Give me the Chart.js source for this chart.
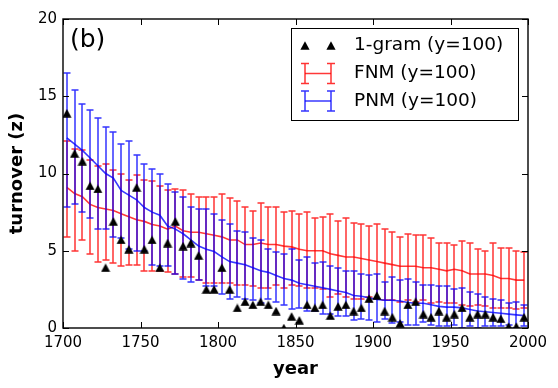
<!DOCTYPE html>
<html>
<head>
<meta charset="utf-8">
<script src="https://cdn.jsdelivr.net/npm/chart.js@4/dist/chart.umd.min.js"></script>
<style>
html,body{margin:0;padding:0;background:#fff;}
#wrap{width:558px;height:388px;position:relative;}
</style>
</head>
<body>
<div id="wrap"><canvas id="c" width="558" height="388"></canvas></div>
<script>
const years = [1702.5,1707.5,1712.5,1717.5,1722.5,1727.5,1732.5,1737.5,1742.5,1747.5,
 1752.5,1757.5,1762.5,1767.5,1772.5,1777.5,1782.5,1787.5,1792.5,1797.5,
 1802.5,1807.5,1812.5,1817.5,1822.5,1827.5,1832.5,1837.5,1842.5,1847.5,
 1852.5,1857.5,1862.5,1867.5,1872.5,1877.5,1882.5,1887.5,1892.5,1897.5,
 1902.5,1907.5,1912.5,1917.5,1922.5,1927.5,1932.5,1937.5,1942.5,1947.5,
 1952.5,1957.5,1962.5,1967.5,1972.5,1977.5,1982.5,1987.5,1992.5,1997.5];

const oneGram = [13.9,11.3,10.8,9.2,9.0,3.9,6.9,5.7,5.1,9.1,
 5.1,5.7,3.9,5.5,6.9,5.3,5.5,4.7,2.5,2.5,
 3.9,2.5,1.3,1.7,1.5,1.7,1.5,1.1,0.0,0.75,
 0.5,1.5,1.3,1.5,0.8,1.4,1.5,1.1,1.3,1.9,
 2.1,1.1,0.7,0.3,1.5,1.7,0.9,0.7,1.1,0.7,
 0.9,1.3,0.7,0.9,0.9,0.7,0.6,0.1,0.1,0.7];

const fnmMean = [9.1,8.7,8.5,8.0,7.8,7.7,7.6,7.4,7.2,7.0,
 6.9,6.7,6.6,6.4,6.6,6.3,6.2,6.2,6.1,6.0,
 5.9,5.7,5.7,5.4,5.4,5.5,5.4,5.4,5.3,5.25,
 5.1,5.0,5.0,5.0,4.8,4.7,4.6,4.6,4.5,4.4,
 4.3,4.2,4.1,4.0,4.0,4.0,3.9,3.9,3.8,3.7,
 3.8,3.7,3.5,3.5,3.5,3.4,3.2,3.2,3.1,3.1];

const fnmHigh = [12.1,11.6,11.5,10.9,10.5,10.6,10.2,10.0,9.6,9.9,
 9.6,9.5,9.2,8.9,9.0,8.9,8.7,8.5,8.5,8.5,
 8.7,8.4,8.2,7.8,7.6,8.1,7.8,7.8,7.5,7.6,
 7.4,7.5,7.1,7.2,7.4,6.9,7.1,6.8,6.7,6.6,
 6.7,6.4,6.2,5.9,6.1,6.0,6.0,5.8,5.5,5.5,
 5.4,5.6,5.5,5.1,5.0,5.5,5.2,5.2,5.0,4.9];

const fnmLow = [5.9,5.0,5.7,4.8,4.3,4.4,4.2,4.0,4.1,4.1,
 3.7,3.7,3.7,3.6,3.5,3.3,3.3,3.1,2.9,2.9,
 2.9,2.9,2.8,2.8,2.7,2.6,2.6,2.8,2.6,2.8,
 2.7,2.6,2.6,2.5,2.0,2.2,2.0,1.9,1.9,2.0,
 1.9,1.8,1.8,1.7,1.8,1.7,1.8,1.6,1.7,1.6,
 1.6,1.5,1.4,1.5,1.4,1.3,1.3,1.3,1.2,1.3];

const pnmMean = [12.3,11.9,11.5,11.0,10.5,10.0,9.7,8.9,8.6,8.3,
 7.8,7.5,7.3,6.6,6.4,6.1,5.7,5.3,5.1,4.95,
 4.6,4.3,4.2,4.1,3.9,3.7,3.6,3.4,3.2,3.1,
 2.9,2.8,2.7,2.6,2.5,2.4,2.3,2.1,2.05,1.95,
 1.85,1.8,1.8,1.75,1.65,1.6,1.6,1.5,1.4,1.35,
 1.35,1.3,1.2,1.1,1.05,1.0,0.95,0.9,0.85,0.8];

const pnmHigh = [16.5,15.4,14.5,14.1,13.6,13.0,12.7,11.9,12.1,11.2,
 10.6,10.3,10.0,9.3,8.8,8.5,7.8,7.7,7.7,7.4,
 7.0,6.7,6.3,6.2,5.8,5.7,5.1,4.9,4.8,5.1,
 4.4,4.6,4.2,4.3,4.0,3.9,3.7,3.7,3.5,3.4,
 3.5,3.0,3.3,3.1,3.2,3.0,2.8,2.8,2.7,2.7,
 2.5,2.6,2.3,2.2,2.0,1.9,1.8,1.6,1.7,1.5];

const pnmLow = [7.8,8.0,7.5,7.1,6.4,6.4,5.9,5.8,5.1,5.0,
 5.0,4.1,4.0,4.0,3.5,3.2,3.0,3.1,2.7,2.7,
 2.2,1.9,2.0,1.9,1.8,1.6,1.9,1.7,1.5,1.2,
 1.3,1.1,1.1,0.9,0.9,0.8,0.8,0.5,0.6,0.5,
 0.4,0.6,0.3,0.4,0.2,0.2,0.4,0.2,0.1,0.1,
 0.2,0.0,0.1,0.0,0.1,0.1,0.1,0.2,0.0,0.1];

const xTicks = [1700, 1750, 1800, 1850, 1900, 1950, 2000];
const yTicks = [0, 5, 10, 15, 20];
const seriesLabels = ['1-gram (y=100)', 'FNM (y=100)', 'PNM (y=100)'];
const panelLabel = '(b)';

const RED = '#ff0000';
const BLUE = '#0000ff';
const RED_A = 'rgba(255,0,0,0.78)';
const BLUE_A = 'rgba(0,0,255,0.78)';
const FONT = "'DejaVu Sans', 'Liberation Sans', sans-serif";

// triangle marker image (matplotlib '^')
const tri = document.createElement('canvas');
tri.width = 10; tri.height = 9;
(function(){
  const t = tri.getContext('2d');
  t.fillStyle = '#000';
  t.beginPath();
  t.moveTo(5, 0.3); t.lineTo(9.6, 8.7); t.lineTo(0.4, 8.7); t.closePath();
  t.fill();
})();

const pts = (arr) => years.map((x, i) => ({x: x, y: arr[i]}));

// error bar: 1.5px wide so it spans two device pixels
function drawErr(ctx, col, px, yl, yh, cap) {
  const w = 1.5;
  ctx.save();
  ctx.globalAlpha = 0.8;
  ctx.fillStyle = col;
  ctx.beginPath();
  ctx.rect(px - w / 2, Math.min(yl, yh), w, Math.abs(yl - yh));
  ctx.rect(px - cap, yl - w / 2, 2 * cap, w);
  ctx.rect(px - cap, yh - w / 2, 2 * cap, w);
  ctx.fill('nonzero');
  ctx.restore();
}

const errorBarPlugin = {
  id: 'errbars',
  beforeDatasetDraw(chart, args) {
    const i0 = args.index;
    const ds = chart.data.datasets[i0];
    const low = i0 === 1 ? pnmLow : (i0 === 2 ? fnmLow : null);
    const high = i0 === 1 ? pnmHigh : (i0 === 2 ? fnmHigh : null);
    if (!low) return;
    const col = i0 === 1 ? BLUE : RED;
    const {ctx, chartArea: a} = chart;
    const xs = chart.scales.x, ys = chart.scales.y;
    ctx.save();
    ctx.beginPath(); ctx.rect(a.left, a.top, a.right - a.left, a.bottom - a.top); ctx.clip();
    ds.data.forEach((p, i) => {
      const px = Math.round(xs.getPixelForValue(p.x));
      const yl = Math.round(ys.getPixelForValue(low[i]));
      const yh = Math.round(ys.getPixelForValue(high[i]));
      drawErr(ctx, col, px, yl, yh, 3.5);
    });
    ctx.restore();
  }
};

const framePlugin = {
  id: 'frame',
  afterDraw(chart) {
    const {ctx, chartArea: a} = chart;
    const xs = chart.scales.x, ys = chart.scales.y;
    ctx.save();
    ctx.strokeStyle = '#000';
    ctx.lineWidth = 1;
    const L = 6;
    ctx.beginPath();
    xTicks.forEach(v => {
      const px = Math.round(xs.getPixelForValue(v)) + 0.5;
      ctx.moveTo(px, a.bottom); ctx.lineTo(px, a.bottom - L);
      ctx.moveTo(px, a.top); ctx.lineTo(px, a.top + L);
    });
    yTicks.forEach(v => {
      const py = Math.round(ys.getPixelForValue(v)) + 0.5;
      ctx.moveTo(a.left, py); ctx.lineTo(a.left + L, py);
      ctx.moveTo(a.right, py); ctx.lineTo(a.right - L, py);
    });
    ctx.stroke();
    ctx.lineWidth = 1.4;
    ctx.strokeRect(a.left, a.top, a.right - a.left, a.bottom - a.top);

    // panel label
    ctx.fillStyle = '#000';
    ctx.font = '25px ' + FONT;
    ctx.textAlign = 'left';
    ctx.textBaseline = 'middle';
    ctx.fillText(panelLabel, a.left + 7, a.top + 21);

    // legend
    const bx = 291.5, by = 28.5, bw = 227, bh = 92;
    ctx.fillStyle = '#fff';
    ctx.fillRect(bx, by, bw, bh);
    ctx.strokeStyle = '#000';
    ctx.lineWidth = 1;
    ctx.strokeRect(bx, by, bw, bh);
    const rows = [45.5, 73.5, 101];
    const hx1 = 305, hx2 = 331, tx = 354;
    ctx.drawImage(tri, hx1 - 5, rows[0] - 4.5);
    ctx.drawImage(tri, hx2 - 5, rows[0] - 4.5);
    [[RED, RED_A, rows[1]], [BLUE, BLUE_A, rows[2]]].forEach(([col, colA, ry]) => {
      drawErr(ctx, col, hx1, ry - 10, ry + 10, 4);
      drawErr(ctx, col, hx2, ry - 10, ry + 10, 4);
      ctx.strokeStyle = colA;
      ctx.lineWidth = 1.5;
      ctx.beginPath(); ctx.moveTo(hx1, ry); ctx.lineTo(hx2, ry); ctx.stroke();
    });
    ctx.fillStyle = '#000';
    ctx.font = '18.5px ' + FONT;
    ctx.textAlign = 'left';
    ctx.textBaseline = 'middle';
    seriesLabels.forEach((t, i) => ctx.fillText(t, tx, rows[i]));
    ctx.restore();
  }
};

new Chart(document.getElementById('c'), {
  type: 'line',
  data: {
    datasets: [
      {label: seriesLabels[0], data: pts(oneGram), showLine: false,
       pointStyle: tri, pointRadius: 5, pointHoverRadius: 5,
       backgroundColor: '#000', borderColor: '#000', borderWidth: 0, clip: 0},
      {label: seriesLabels[2], data: pts(pnmMean), borderColor: BLUE_A, borderWidth: 1.6,
       pointRadius: 0, fill: false, tension: 0, clip: 0},
      {label: seriesLabels[1], data: pts(fnmMean), borderColor: RED_A, borderWidth: 1.6,
       pointRadius: 0, fill: false, tension: 0, clip: 0}
    ]
  },
  options: {
    responsive: false,
    animation: false,
    layout: {padding: {left: 0, top: 19, right: 30, bottom: 0}},
    plugins: {legend: {display: false}, tooltip: {enabled: false}},
    scales: {
      x: {
        type: 'linear', min: 1700, max: 2000,
        afterBuildTicks(s) { s.ticks = xTicks.map(v => ({value: v})); },
        afterFit(s) { s.height = 60; },
        grid: {display: false, drawTicks: false},
        border: {display: false},
        ticks: {color: '#000', font: {family: FONT, size: 15}, padding: 6, maxRotation: 0,
                callback: v => String(v)},
        title: {display: true, text: 'year', color: '#000',
                font: {family: FONT, size: 18, weight: 'bold'}, padding: {top: 0, bottom: 8}}
      },
      y: {
        type: 'linear', min: 0, max: 20,
        afterBuildTicks(s) { s.ticks = yTicks.map(v => ({value: v})); },
        afterFit(s) { s.width = 63; },
        grid: {display: false, drawTicks: false},
        border: {display: false},
        ticks: {color: '#000', font: {family: FONT, size: 15}, padding: 6,
                callback: v => String(v)},
        title: {display: true, text: 'turnover (z)', color: '#000',
                font: {family: FONT, size: 18, weight: 'bold'}, padding: {top: 7, bottom: 0}}
      }
    }
  },
  plugins: [errorBarPlugin, framePlugin]
});
</script>
</body>
</html>
